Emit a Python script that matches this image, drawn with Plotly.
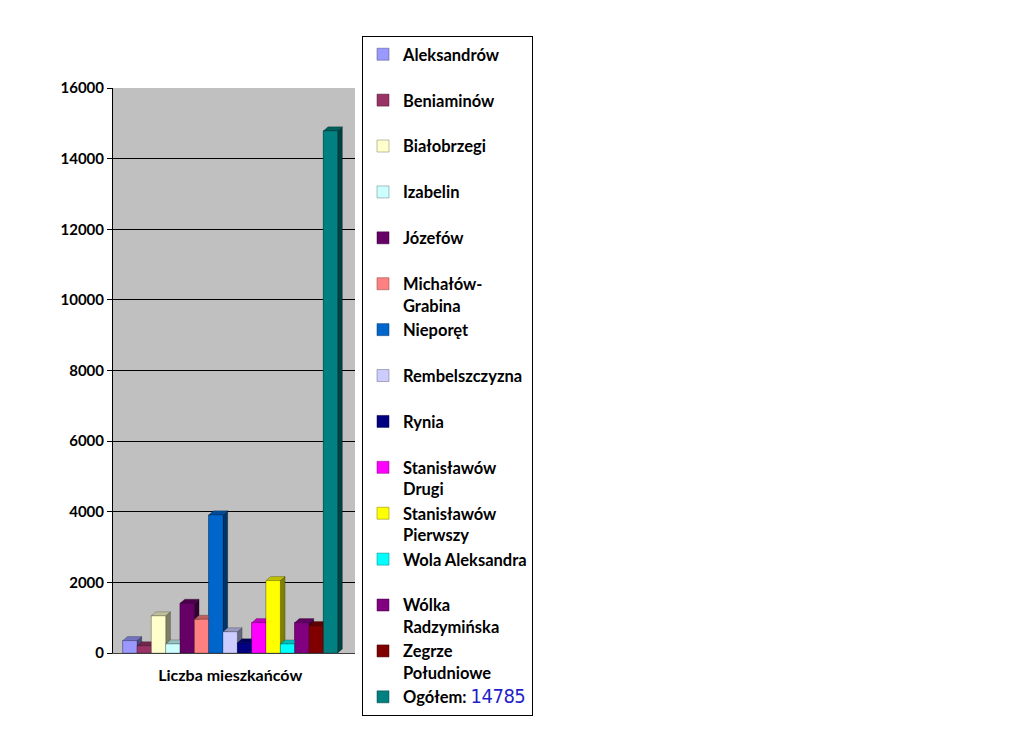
import plotly.graph_objects as go

category = "Liczba mieszkańców"
names = ["Aleksandrów", "Beniaminów", "Białobrzegi", "Izabelin", "Józefów",
         "Michałów-<br>Grabina", "Nieporęt", "Rembelszczyzna", "Rynia",
         "Stanisławów<br>Drugi", "Stanisławów<br>Pierwszy", "Wola Aleksandra",
         "Wólka<br>Radzymińska", "Zegrze<br>Południowe", "Ogółem:"]
values = [350, 205, 1050, 255, 1410, 955, 3910, 600, 290, 860, 2050, 255, 860, 775, 14785]
colors = ["#9999FF", "#993366", "#FFFFCC", "#CCFFFF", "#660066", "#FF8080", "#0066CC",
          "#CCCCFF", "#000080", "#FF00FF", "#FFFF00", "#00FFFF", "#800080", "#800000",
          "#008080"]

# 3d look: depth of the side / top faces in axis units
DX = 0.33
DY = 115
W = 1.0


def shade(c, f):
    r, g, b = int(c[1:3], 16), int(c[3:5], 16), int(c[5:7], 16)
    return "rgb(%d,%d,%d)" % (r * f, g * f, b * f)


def legend_name(i):
    n = names[i]
    if i == len(names) - 1:
        return (n + ' <span style="color:#1f1fc8;font-weight:normal;font-size:20px;'
                "font-family:'DejaVu Sans Condensed','DejaVu Sans';font-stretch:condensed;"
                'letter-spacing:-0.5px">' + str(values[i]) + "</span>")
    if "<br>" not in n:
        n = n + "<br>\u00a0"
    return n


fig = go.Figure()

for i, v in enumerate(values):
    fig.add_trace(go.Bar(x=[i], y=[v], width=W, name=legend_name(i),
                         legendgroup=str(i), marker_color=colors[i],
                         marker_line=dict(width=0.5, color=shade(colors[i], 0.5)),
                         hoverinfo="skip"))

edge = "rgba(0,0,0,0.45)"
for i, v in enumerate(values):
    a = i - W / 2
    b = i + W / 2
    # side face
    fig.add_trace(go.Scatter(x=[b, b + DX, b + DX, b, b], y=[0, DY, v + DY, v, 0],
                             mode="lines", fill="toself", fillcolor=shade(colors[i], 0.5),
                             line=dict(width=0.5, color=edge), legendgroup=str(i),
                             showlegend=False, hoverinfo="skip"))
    # top face
    fig.add_trace(go.Scatter(x=[a, a + DX, b + DX, b, a], y=[v, v + DY, v + DY, v, v],
                             mode="lines", fill="toself", fillcolor=shade(colors[i], 0.75),
                             line=dict(width=0.5, color=edge), legendgroup=str(i),
                             showlegend=False, hoverinfo="skip"))
    # front face
    fig.add_trace(go.Scatter(x=[a, b, b, a, a], y=[0, 0, v, v, 0],
                             mode="lines", fill="toself", fillcolor=colors[i],
                             line=dict(width=0.5, color=edge), legendgroup=str(i),
                             showlegend=False, hoverinfo="skip"))

# page body adds an 8px offset, so margins are 8px smaller on the left/top
fig.update_layout(
    width=1024, height=741,
    margin=dict(l=105, r=677, t=80, b=96, autoexpand=False),
    paper_bgcolor="white", plot_bgcolor="#C0C0C0",
    barmode="overlay",
    showlegend=True,
    font=dict(family="Lato", size=15, color="black", weight="bold"),
    legend=dict(x=(362 - 113) / 242, y=(653 - 36) / 565, xanchor="left", yanchor="top",
                bordercolor="black", borderwidth=1, bgcolor="white",
                traceorder="grouped", tracegroupgap=0, valign="top", maxheight=720,
                itemwidth=30, font=dict(family="Lato", size=16.5, weight="bold")),
)
fig.update_xaxes(range=[-1.177, 15.71], tickvals=[(len(values) - 1) / 2], ticktext=[category],
                 tickfont=dict(size=16, weight="bold"), showgrid=False, zeroline=False,
                 showline=True, linecolor="#404040", ticks="", ticklabelstandoff=8)
fig.update_yaxes(range=[0, 16000], dtick=2000, tickformat="d", showgrid=True,
                 gridcolor="black", gridwidth=1,
                 zeroline=False, showline=True, linecolor="black", ticks="outside",
                 ticklen=5, tickcolor="black", tickfont=dict(size=15, weight="bold"))

fig.write_html("out.html")
